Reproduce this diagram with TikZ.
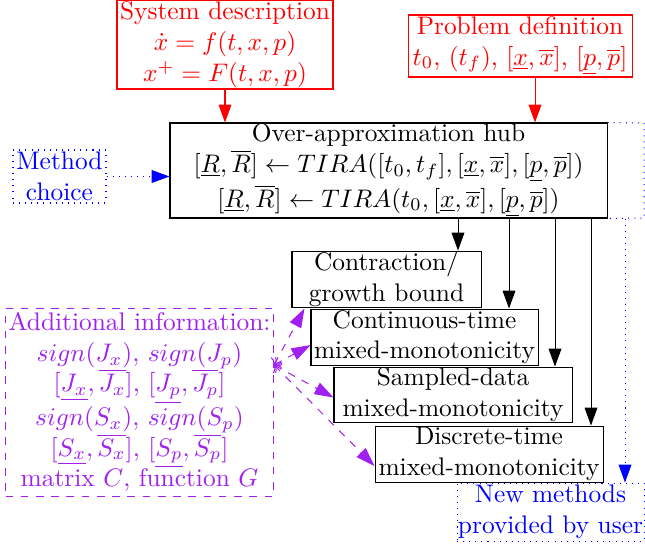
\documentclass[tikz,border=0pt]{standalone}
\usetikzlibrary{arrows.meta,calc}
\definecolor{pur}{RGB}{160,32,240}
\begin{document}
\begin{tikzpicture}[x=0.3937pt,y=-0.3937pt,
  sz/.style 2 args={minimum width=#1*0.3937pt,minimum height=#2*0.3937pt},
  box/.style={draw, inner sep=0pt, align=center, fill=white},
  redbox/.style={box, draw=red, text=red},
  bluebox/.style={box, draw=blue, text=blue, dotted},
  purbox/.style={box, draw=pur, text=pur, dashed},
  tip/.style={-{Triangle[length=7pt,width=5pt]}},
  ptip/.style={pur, dashed, {To[length=2.2pt,width=5pt]}-{Triangle[length=7.5pt,width=5pt]}}
]
\useasboundingbox (0,0) rectangle (645,545);

% blue dotted frame to the right of the hub
\coordinate (bne) at (644,123);
\coordinate (bse) at (644,218);

\node[redbox, sz={216}{89}] (sys) at (225,44.5)
  {System description\\[0.5pt] $\dot{x}=f(t,x,p)$\\ $x^+=F(t,x,p)$};
\node[redbox, sz={224}{62}] (prob) at (520,46)
  {Problem definition\\ $t_0$, $(t_f)$, $[\underline{x},\overline{x}]$, $[\underline{p},\overline{p}]$};
\node[box, sz={437}{95}] (hub) at (388.5,170.5)
  {Over-approximation hub\\
   $[\underline{R},\overline{R}]\leftarrow TIRA([t_0,t_f],[\underline{x},\overline{x}],[\underline{p},\overline{p}])$\\
   $[\underline{R},\overline{R}]\leftarrow TIRA(t_0,[\underline{x},\overline{x}],[\underline{p},\overline{p}])$};
\node[bluebox, sz={93}{53}] (meth) at (59.5,176.5) {Method\\ choice};
\node[box, sz={189}{56}] (contr) at (386.5,279) {Contraction/\\ growth bound};
\node[box, sz={227}{56}] (cont) at (424.5,337) {Continuous-time\\ mixed-monotonicity};
\node[box, sz={238}{55}] (samp) at (453,394.5) {Sampled-data\\ mixed-monotonicity};
\node[box, sz={228}{56}] (disc) at (489,454) {Discrete-time\\ mixed-monotonicity};
\node[purbox, sz={268}{188}] (addl) at (139.5,402)
  {Additional information:\\
   $sign(J_x)$, $sign(J_p)$\\
   $[\underline{J_x},\overline{J_x}]$, $[\underline{J_p},\overline{J_p}]$\\
   $sign(S_x)$, $sign(S_p)$\\
   $[\underline{S_x},\overline{S_x}]$, $[\underline{S_p},\overline{S_p}]$\\
   matrix $C$, function $G$};
\node[bluebox, sz={187}{58}] (newm) at (550.5,512) {New methods\\ provided by user};

% red inputs
\coordinate (pa) at (535,0);
\draw[red, tip] (sys.south) -- (sys.south |- hub.north);
\draw[red, tip] (prob.south -| pa) -- (hub.north -| pa);

% method choice
\draw[blue, dotted, tip] (meth.east) -- (meth.east -| hub.west);

% blue frame and new methods
\draw[blue, dotted] (hub.north east) -- (bne) -- (bse) -- (hub.south east);
\coordinate (ba) at (625,0);
\draw[blue, dotted, tip] (hub.south -| ba) -- (newm.north -| ba);

% hub to methods
\coordinate (a1) at (458,0);
\coordinate (a2) at (509,0);
\coordinate (a3) at (555,0);
\coordinate (a4) at (591,0);
\draw[tip] (hub.south -| a1) -- (contr.north -| a1);
\draw[tip] (hub.south -| a2) -- (cont.north -| a2);
\draw[tip] (hub.south -| a3) -- (samp.north -| a3);
\draw[tip] (hub.south -| a4) -- (disc.north -| a4);

% additional information
\coordinate (ps) at ($(addl.east)+(0,-37)$);
\draw[ptip] (ps) -- ($(contr.south west)+(13,1)$);
\draw[ptip] (ps) -- ($(cont.west)+(0,8)$);
\draw[ptip] (ps) -- ($(samp.west)+(0,3)$);
\draw[ptip] (ps) -- ($(disc.west)+(0,12)$);
\end{tikzpicture}
\end{document}
